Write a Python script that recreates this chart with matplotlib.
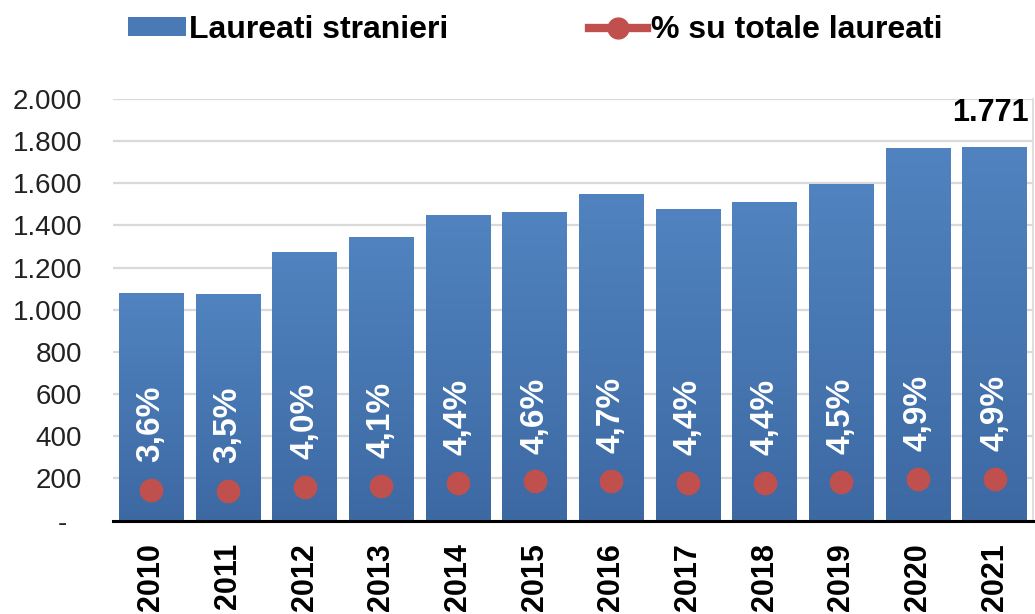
import numpy as np
import matplotlib.pyplot as plt
from matplotlib.colors import LinearSegmentedColormap
from matplotlib.lines import Line2D
from matplotlib.patches import Patch

plt.rcParams['font.family'] = ['Liberation Sans', 'DejaVu Sans']

# Dati
anni = ['2010', '2011', '2012', '2013', '2014', '2015',
        '2016', '2017', '2018', '2019', '2020', '2021']
laureati_stranieri = [1081, 1075, 1275, 1347, 1447, 1464, 1550, 1479, 1511, 1597, 1768, 1771]
perc_su_totale = [3.6, 3.5, 4.0, 4.1, 4.4, 4.6, 4.7, 4.4, 4.4, 4.5, 4.9, 4.9]
tick_y = [0, 200, 400, 600, 800, 1000, 1200, 1400, 1600, 1800, 2000]
etichette_y = ['-  ', '200', '400', '600', '800', '1.000', '1.200',
               '1.400', '1.600', '1.800', '2.000']

blu_chiaro = '#5083BF'
blu_scuro = '#3D69A3'
rosso = '#C0504D'

fig = plt.figure(figsize=(10.35, 6.14), dpi=100)
ax = fig.add_axes([0.109, 0.152, 0.889, 0.687])

x = np.arange(len(anni))
barre = ax.bar(x, laureati_stranieri, width=0.84, color=blu_chiaro, zorder=2)

# Sfumatura verticale dentro ogni barra
cmap = LinearSegmentedColormap.from_list('blu', [blu_scuro, blu_chiaro])
grad = np.linspace(0, 1, 256).reshape(-1, 1)
for b in barre:
    im = ax.imshow(grad, extent=[b.get_x(), b.get_x() + b.get_width(), 0, b.get_height()],
                   origin='lower', aspect='auto', cmap=cmap, zorder=3)
    im.set_clip_path(b)

ax.set_xlim(-0.5, len(anni) - 0.5)
ax.set_ylim(0, 2000)

# Serie percentuale su asse secondario
ax2 = ax.twinx()
ax2.set_ylim(0, 2000 / 40.5)
ax2.plot(x, perc_su_totale, linestyle='none', marker='o', markersize=16,
         color=rosso, zorder=4)
for xi, p in zip(x, perc_su_totale):
    ax2.annotate(f'{p:.1f}%'.replace('.', ','), (xi, p), xytext=(0, 20),
                 textcoords='offset points', rotation=90, ha='center', va='bottom',
                 color='white', fontsize=24, fontweight='bold')
ax2.set_yticks([])
for s in ax2.spines.values():
    s.set_visible(False)

# Etichetta ultimo valore
ax.annotate(f'{laureati_stranieri[-1]:,}'.replace(',', '.'), (x[-1], laureati_stranieri[-1]),
            xytext=(-3, 14), textcoords='offset points', ha='center', va='bottom',
            fontsize=22, fontweight='bold', color='black', annotation_clip=False)

ax.set_yticks(tick_y)
ax.set_yticklabels(etichette_y, fontsize=20, color='#222222')
ax.set_xticks(x)
ax.set_xticklabels(anni, rotation=90, fontsize=22, fontweight='bold')
ax.tick_params(axis='both', length=0)
ax.tick_params(axis='y', pad=22)
ax.tick_params(axis='x', pad=16)

ax.grid(axis='y', color='#D9D9D9', linewidth=1.6, zorder=0)
ax.set_axisbelow(True)
for s in ['left', 'top']:
    ax.spines[s].set_visible(False)
ax.spines['right'].set_color('#D9D9D9')
ax.spines['right'].set_linewidth(1.2)
ax.spines['bottom'].set_color('black')
ax.spines['bottom'].set_linewidth(2.2)
ax.spines['bottom'].set_zorder(5)

maniglie = [Patch(facecolor='#4A7AB5', edgecolor='none'),
            Line2D([0], [0], color=rosso, linewidth=6, marker='o', markersize=15)]
fig.legend(maniglie, ['Laureati stranieri', '% su totale laureati'],
           loc='center', bbox_to_anchor=(0.517, 0.951), ncol=2, frameon=False,
           prop={'size': 23, 'weight': 'bold'}, handlelength=1.8, handleheight=0.55,
           handletextpad=0.12, columnspacing=4.4)

fig.savefig('out.png', dpi=100)
